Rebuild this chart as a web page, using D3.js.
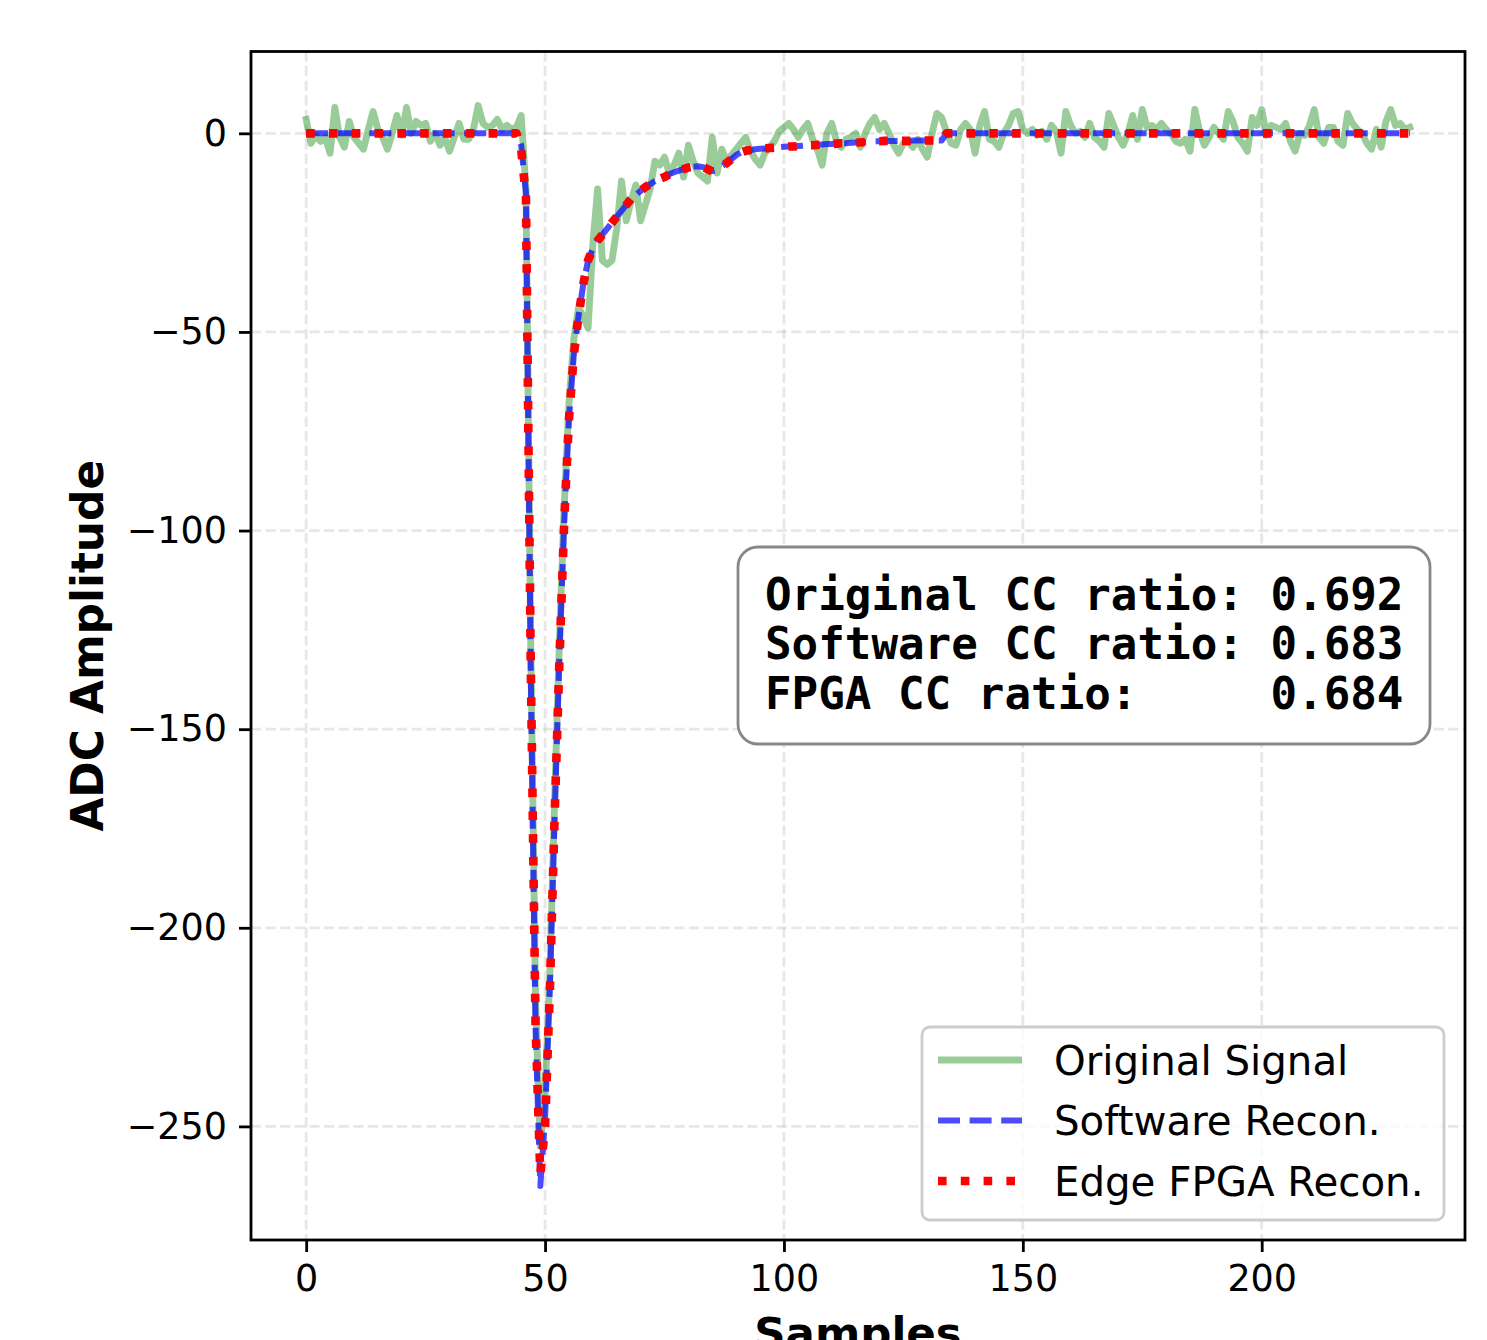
<!DOCTYPE html>
<html>
<head>
<meta charset="utf-8">
<script src="https://cdn.jsdelivr.net/npm/d3@7"></script>
<style>
  body { margin: 0; background: #fff; }
  svg { display: block; }
</style>
</head>
<body>
<svg id="chart" width="1487" height="1340"></svg>
<script>
// values, one per sample (0..231)
var original = [
  3.5, -2.5, -0.5, -2, -1, -5, 6.5, -1, -3.5, 3,
  -1, -2.5, -4, 1, 5.5, 1, -1, -4, 0, 4.5,
  -0.5, 6.5, 0, 3, 2, 2.5, -2, 0, -3, -1,
  -4.5, -1, 2.5, -1.5, -1.5, 1, 7, 2.5, 1.5, 2,
  3.5, 1, 2, 1, 1.5, 4.5, -14, -128, -218, -255,
  -242, -212, -168, -128, -94, -68, -52, -44, -46, -49,
  -28, -14, -32, -33, -32, -24, -12, -22, -17, -13,
  -22, -18, -14, -7, -8, -6, -10, -8, -5, -11,
  -3, -7, -10, -11, -12, -1, -10, -4, -7, -5.5,
  -4, -2.5, -1, -4.5, -6.5, -8, -5, -3.5, -2, 0.5,
  1.5, 2.5, 1, -1, 1, 2.5, -1.5, -4, -8, 0,
  2.5, -2, -3.5, -1.5, -1, 0, -3.5, 0, 2.5, 4,
  1, 2.5, 0, -3, -5, -2.5, -2, -3.5, -1.5, -4,
  -6, 0, 5, 4, 0.5, -2.5, -3, 1, 2.5, 1,
  -5, 2, 5.5, -1.5, -2, -3.5, 0, 2, 5, 5.5,
  1, 0, 1, -0.5, 0.5, -1.5, 2, 0.5, -5, 5.5,
  2, 0, 0.5, -1, 2.5, -1, -2, -3.5, 5, 2,
  -1, -3, 0, 4.5, -1.5, 6, 1.5, 2, 1, 2.5,
  1, 0, -2, -2.5, -1.5, -4.5, 6, 0.5, -3, -1,
  1.5, 0, -1.5, 5.5, 3, -1, -2.5, -4.5, 4, 2,
  6, -0.5, 2, 1.5, 1, 2.5, -2, -4.5, 0, -0.5,
  2, 6, -1, -2.5, 1.5, 1.5, -2, -3, 5, 2.5,
  1, 0, -2.5, -4, 1, -3.5, 3, 6, 2, 2.5,
  1, 1.5
];

var software = [
  0, 0, 0, 0, 0, 0, 0, 0, 0, 0,
  0, 0, 0, 0, 0, 0, 0, 0, 0, 0,
  0, 0, 0, 0, 0, 0, 0, 0, 0, 0,
  0, 0, 0, 0, 0, 0, 0, 0, 0, 0,
  0, 0, 0, 0, 0, -3, -15, -135, -225, -265,
  -248, -215, -172, -132, -98, -72, -56, -46, -38, -32,
  -29, -27, -25.5, -24, -22.5, -21, -19.5, -18, -16.5, -15.5,
  -14.5, -13.5, -12.8, -12, -11.5, -11, -10.3, -9.8, -9.4, -9,
  -8.6, -8.4, -8.3, -8.5, -9, -9.5, -9.2, -8.3, -7.5, -6.5,
  -5.5, -4.8, -4.4, -4.2, -4, -3.9, -3.8, -3.7, -3.6, -3.5,
  -3.4, -3.3, -3.3, -3.2, -3.1, -3, -3, -2.9, -2.8, -2.7,
  -2.7, -2.6, -2.5, -2.5, -2.4, -2.3, -2.3, -2.2, -2.1, -2,
  -2, -1.9, -1.9, -1.9, -1.9, -1.9, -1.9, -1.8, -1.8, -1.8,
  -1.8, -1.8, -1.8, -1.8, 0, 0, 0, 0, 0, 0,
  0, 0, 0, 0, 0, 0, 0, 0, 0, 0,
  0, 0, 0, 0, 0, 0, 0, 0, 0, 0,
  0, 0, 0, 0, 0, 0, 0, 0, 0, 0,
  0, 0, 0, 0, 0, 0, 0, 0, 0, 0,
  0, 0, 0, 0, 0, 0, 0, 0, 0, 0,
  0, 0, 0, 0, 0, 0, 0, 0, 0, 0,
  0, 0, 0, 0, 0, 0, 0, 0, 0, 0,
  0, 0, 0, 0, 0, 0, 0, 0, 0, 0,
  0, 0, 0, 0, 0, 0, 0, 0, 0, 0,
  0, 0
];

var fpga = [
  0, 0, 0, 0, 0, 0, 0, 0, 0, 0,
  0, 0, 0, 0, 0, 0, 0, 0, 0, 0,
  0, 0, 0, 0, 0, 0, 0, 0, 0, 0,
  0, 0, 0, 0, 0, 0, 0, 0, 0, 0,
  0, 0, 0, 0, 0, -4, -16, -133, -224, -262,
  -250, -216, -172, -133, -98, -72, -56, -46, -38, -32,
  -29, -27, -25.5, -24, -22.5, -21, -19.5, -18, -16.5, -15.5,
  -14.5, -13.5, -12.8, -12, -11.5, -11, -10.3, -9.8, -9.4, -9,
  -8.6, -8.4, -8.3, -8.5, -9, -9.6, -9.3, -8.3, -7.5, -6.5,
  -5.5, -4.8, -4.4, -4.2, -4, -3.9, -3.8, -3.7, -3.6, -3.5,
  -3.4, -3.3, -3.3, -3.2, -3.1, -3, -3, -2.9, -2.8, -2.7,
  -2.7, -2.6, -2.5, -2.5, -2.4, -2.3, -2.3, -2.2, -2.1, -2,
  -2, -1.9, -1.9, -1.9, -1.9, -1.9, -1.9, -1.8, -1.8, -1.8,
  -1.8, -1.8, -1.8, -1.8, 0, 0, 0, 0, 0, 0,
  0, 0, 0, 0, 0, 0, 0, 0, 0, 0,
  0, 0, 0, 0, 0, 0, 0, 0, 0, 0,
  0, 0, 0, 0, 0, 0, 0, 0, 0, 0,
  0, 0, 0, 0, 0, 0, 0, 0, 0, 0,
  0, 0, 0, 0, 0, 0, 0, 0, 0, 0,
  0, 0, 0, 0, 0, 0, 0, 0, 0, 0,
  0, 0, 0, 0, 0, 0, 0, 0, 0, 0,
  0, 0, 0, 0, 0, 0, 0, 0, 0, 0,
  0, 0, 0, 0, 0, 0, 0, 0, 0, 0,
  0, 0
];

var xTicks = [0, 50, 100, 150, 200];
var yTicks = [-250, -200, -150, -100, -50, 0];
var seriesNames = ["Original Signal", "Software Recon.", "Edge FPGA Recon."];
var ccLines = [
  "Original CC ratio: 0.692",
  "Software CC ratio: 0.683",
  "FPGA CC ratio:     0.684"
];

// line styles, matplotlib-like
var series = [
  {name: seriesNames[0], data: original, color: "#008000", opacity: 0.4, width: 6.9, dash: null},
  {name: seriesNames[1], data: software, color: "#0000ff", opacity: 0.7, width: 6, dash: "22,9.6"},
  {name: seriesNames[2], data: fpga, color: "#ff0000", opacity: 1, width: 8.6, dash: "8.6,14.2"}
];

var font = "'DejaVu Sans', sans-serif";
var svg = d3.select("#chart");
var m = {left: 251, right: 1465, top: 51.5, bottom: 1240};

var n = original.length;
var x = d3.scaleLinear()
    .domain([-(n - 1) * 0.05, (n - 1) * 1.05])
    .range([m.left, m.right]);

var ext = d3.extent(original.concat(software, fpga)),
    pad = (ext[1] - ext[0]) * 0.05;
var y = d3.scaleLinear()
    .domain([ext[0] - pad, ext[1] + pad])
    .range([m.bottom, m.top]);

svg.append("defs").append("clipPath").attr("id", "plot")
  .append("rect")
    .attr("x", m.left).attr("y", m.top)
    .attr("width", m.right - m.left).attr("height", m.bottom - m.top);

// grid
var grid = svg.append("g")
    .attr("stroke", "#b0b0b0")
    .attr("stroke-opacity", 0.3)
    .attr("stroke-width", 2.8)
    .attr("stroke-dasharray", "10.2,4.4");

grid.selectAll(".gx").data(xTicks).enter().append("line")
    .attr("x1", d => x(d)).attr("x2", d => x(d))
    .attr("y1", m.top).attr("y2", m.bottom);

grid.selectAll(".gy").data(yTicks).enter().append("line")
    .attr("x1", m.left).attr("x2", m.right)
    .attr("y1", d => y(d)).attr("y2", d => y(d));

// lines
var line = d3.line()
    .x((d, i) => x(i))
    .y(d => y(d));

var lines = svg.append("g").attr("clip-path", "url(#plot)");
series.forEach(function(s) {
  lines.append("path")
      .datum(s.data)
      .attr("fill", "none")
      .attr("stroke", s.color)
      .attr("stroke-opacity", s.opacity)
      .attr("stroke-width", s.width)
      .attr("stroke-linejoin", "round")
      .attr("stroke-linecap", s.dash ? "butt" : "square")
      .attr("stroke-dasharray", s.dash)
      .attr("d", line);
});

// axes
var gx = svg.append("g")
    .attr("transform", "translate(0," + m.bottom + ")")
    .call(d3.axisBottom(x).tickValues(xTicks).tickSize(12).tickPadding(13).tickFormat(d3.format("d")));
var gy = svg.append("g")
    .attr("transform", "translate(" + m.left + ",0)")
    .call(d3.axisLeft(y).tickValues(yTicks).tickSize(12).tickPadding(12).tickFormat(d3.format("d")));

[gx, gy].forEach(function(g) {
  g.select(".domain").remove();
  g.attr("font-family", font).attr("font-size", 36.5);
  g.selectAll(".tick line").attr("stroke", "#000").attr("stroke-width", 2.8);
  g.selectAll(".tick text").attr("fill", "#000");
});

// spines
svg.append("rect")
    .attr("x", m.left).attr("y", m.top)
    .attr("width", m.right - m.left).attr("height", m.bottom - m.top)
    .attr("fill", "none")
    .attr("stroke", "#000")
    .attr("stroke-width", 2.8);

// axis labels
svg.append("text")
    .attr("x", (m.left + m.right) / 2)
    .attr("y", 1348)
    .attr("text-anchor", "middle")
    .attr("font-family", font)
    .attr("font-weight", "bold")
    .attr("font-size", 43.5)
    .text("Samples");

svg.append("text")
    .attr("transform", "translate(103," + (m.top + m.bottom) / 2 + ") rotate(-90)")
    .attr("text-anchor", "middle")
    .attr("font-family", font)
    .attr("font-weight", "bold")
    .attr("font-size", 43.8)
    .text("ADC Amplitude");

// CC ratio box
var box = svg.append("g");
box.append("rect")
    .attr("x", 738).attr("y", 547)
    .attr("width", 692).attr("height", 197)
    .attr("rx", 20).attr("ry", 20)
    .attr("fill", "#fff")
    .attr("stroke", "#878787")
    .attr("stroke-width", 2.8);

box.selectAll("text").data(ccLines).enter().append("text")
    .attr("x", 765)
    .attr("y", (d, i) => 610 + i * 49.3)
    .attr("font-family", "'DejaVu Sans Mono', monospace")
    .attr("font-weight", "bold")
    .attr("font-size", 44.2)
    .style("white-space", "pre")
    .text(d => d);

// legend
var leg = svg.append("g");
leg.append("rect")
    .attr("x", 922).attr("y", 1027)
    .attr("width", 522).attr("height", 193)
    .attr("rx", 8).attr("ry", 8)
    .attr("fill", "#fff")
    .attr("fill-opacity", 0.8)
    .attr("stroke", "#cccccc")
    .attr("stroke-width", 2.8);

series.forEach(function(s, i) {
  var cy = 1060 + i * 60.5;
  leg.append("line")
      .attr("x1", 938).attr("x2", 1022)
      .attr("y1", cy).attr("y2", cy)
      .attr("stroke", s.color)
      .attr("stroke-opacity", s.opacity)
      .attr("stroke-width", s.width)
      .attr("stroke-linecap", "butt")
      .attr("stroke-dasharray", s.dash);
  leg.append("text")
      .attr("x", 1054)
      .attr("y", cy + 14.5)
      .attr("font-family", font)
      .attr("font-size", 40.3)
      .text(s.name);
});
</script>
</body>
</html>
